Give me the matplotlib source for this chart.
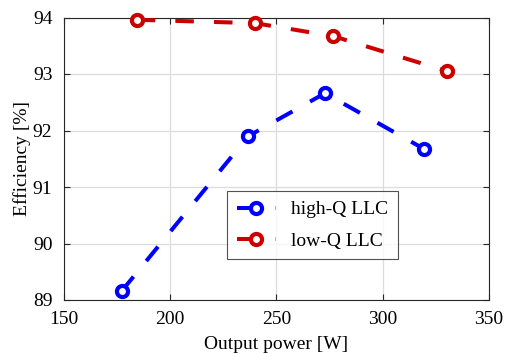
import matplotlib.pyplot as plt

plt.rcParams['font.family'] = ['Liberation Serif', 'DejaVu Serif']

# Output power [W] and efficiency [%]
power_high_q = [177.4, 236.9, 272.9, 319.6]
eff_high_q = [89.16, 91.90, 92.66, 91.67]
power_low_q = [184.4, 240.0, 276.8, 330.2]
eff_low_q = [93.96, 93.90, 93.67, 93.05]

fig = plt.figure(figsize=(5.11, 3.54), dpi=100)
ax = fig.add_axes([63.5 / 511, 1 - 300 / 354, (489 - 63.5) / 511, (300 - 17.5) / 354])

style = dict(linestyle=(0, (4.6, 5.0)), linewidth=2.9, marker='o', markersize=8,
             markerfacecolor='white', markeredgewidth=3.0, clip_on=False, zorder=3)
ax.plot(power_high_q, eff_high_q, color='#0000ff', label='high-Q LLC', **style)
ax.plot(power_low_q, eff_low_q, color='#cc0000', label='low-Q LLC', **style)

ax.set_xlim(150, 350)
ax.set_ylim(89, 94)
ax.set_xticks([150, 200, 250, 300, 350])
ax.set_yticks([89, 90, 91, 92, 93, 94])
ax.grid(True, color='#dcdcdc', linewidth=0.9)
ax.set_axisbelow(True)
ax.tick_params(direction='in', top=True, right=True, labelsize=14, length=4, color='#262626')
ax.tick_params(axis='x', pad=8)
ax.tick_params(axis='y', pad=8)
for s in ax.spines.values():
    s.set_color('#262626')
    s.set_linewidth(0.8)

ax.set_xlabel('Output power [W]', fontsize=14, labelpad=6)
ax.set_ylabel('Efficiency [%]', fontsize=14, labelpad=1)

leg = ax.legend(loc='upper left', bbox_to_anchor=((227 - 63.5) / 425.5, 1 - (191 - 17.5) / 282.5),
                fontsize=14, frameon=True, fancybox=False, edgecolor='#262626',
                handlelength=2.0, borderpad=0.5, labelspacing=0.7, handletextpad=0.8,
                borderaxespad=0)
leg.get_frame().set_linewidth(0.8)

fig.savefig('out.png', dpi=100)
